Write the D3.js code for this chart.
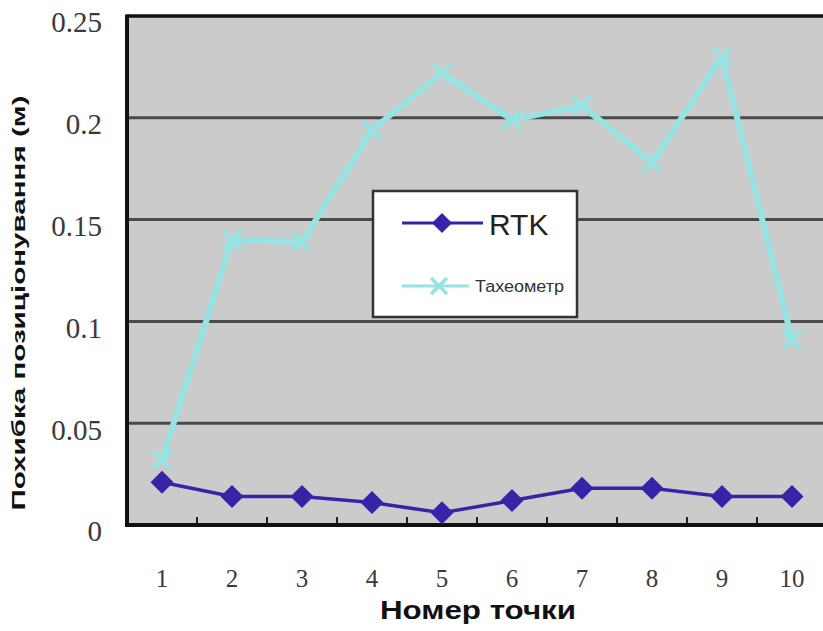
<!DOCTYPE html>
<html>
<head>
<meta charset="utf-8">
<script src="https://cdn.jsdelivr.net/npm/d3@7"></script>
<style>
  html, body { margin: 0; padding: 0; background: #fff; }
  svg { display: block; }
  .serif { font-family: "Liberation Serif", "Times New Roman", "DejaVu Serif", serif; }
  .sans { font-family: "Liberation Sans", Arial, "DejaVu Sans", sans-serif; }
</style>
</head>
<body>
<svg id="chart" width="823" height="631"></svg>
<script>
// Point numbers along the x axis
const points = ["1", "2", "3", "4", "5", "6", "7", "8", "9", "10"];
// Positioning error, metres
const rtk = [0.021, 0.014, 0.014, 0.011, 0.006, 0.012, 0.018, 0.018, 0.014, 0.014];
const tacheometer = [0.032, 0.140, 0.139, 0.194, 0.222, 0.199, 0.206, 0.178, 0.230, 0.091];
const yTicks = [0, 0.05, 0.1, 0.15, 0.2, 0.25];
const yTickLabels = ["0", "0.05", "0.1", "0.15", "0.2", "0.25"];

const svg = d3.select("#chart");
const plot = { left: 127, right: 827, top: 16, bottom: 525 };

const x = d3.scaleBand().domain(points).range([plot.left, plot.right]).padding(0);
const y = d3.scaleLinear().domain([0, 0.25]).range([plot.bottom, plot.top]);

// plot background
svg.append("rect")
  .attr("x", plot.left).attr("y", plot.top)
  .attr("width", plot.right - plot.left).attr("height", plot.bottom - plot.top)
  .attr("fill", "#cbcbcb");

// horizontal gridlines
svg.append("g")
  .selectAll("line")
  .data(yTicks.filter(d => d > 0 && d < 0.25))
  .join("line")
  .attr("x1", plot.left).attr("x2", plot.right)
  .attr("y1", d => y(d)).attr("y2", d => y(d))
  .attr("stroke", "#4a4a4a").attr("stroke-width", 3);

// y axis labels
const yAxis = d3.axisLeft(y)
  .tickValues(yTicks)
  .tickFormat((d, i) => yTickLabels[i])
  .tickSize(0)
  .tickPadding(25);
const gy = svg.append("g").attr("transform", `translate(${plot.left},0)`).call(yAxis);
gy.attr("font-family", null).attr("font-size", null);
gy.select(".domain").remove();
gy.selectAll("text")
  .attr("class", "serif")
  .style("font-size", "29px")
  .attr("fill", "#3a3a3a")
  .attr("dy", "0.55em");

// x axis: labels under each band, inward ticks at band boundaries
const xAxis = d3.axisBottom(x).tickSize(0).tickPadding(44);
const gx = svg.append("g").attr("transform", `translate(0,${plot.bottom})`).call(xAxis);
gx.attr("font-family", null).attr("font-size", null);
gx.select(".domain").remove();
gx.selectAll("text")
  .attr("class", "serif")
  .style("font-size", "25px")
  .attr("fill", "#3a3a3a");

svg.append("g")
  .selectAll("line")
  .data(points.slice(1))
  .join("line")
  .attr("x1", d => x(d)).attr("x2", d => x(d))
  .attr("y1", plot.bottom - 8).attr("y2", plot.bottom)
  .attr("stroke", "#222").attr("stroke-width", 2);

// frame
svg.append("line")
  .attr("x1", plot.left).attr("x2", plot.right)
  .attr("y1", plot.top).attr("y2", plot.top)
  .attr("stroke", "#111").attr("stroke-width", 3.5);
svg.append("line")
  .attr("x1", plot.left).attr("x2", plot.left)
  .attr("y1", plot.top - 1.5).attr("y2", plot.bottom + 2)
  .attr("stroke", "#111").attr("stroke-width", 4);
svg.append("line")
  .attr("x1", plot.left - 2).attr("x2", plot.right)
  .attr("y1", plot.bottom).attr("y2", plot.bottom)
  .attr("stroke", "#111").attr("stroke-width", 4);

const cx = d => x(d) + x.bandwidth() / 2;
const line = d3.line().x((d, i) => cx(points[i])).y(d => y(d));

// Tacheometer series
const tachColor = "#96e3e1";
svg.append("path")
  .datum(tacheometer)
  .attr("d", line)
  .attr("fill", "none")
  .attr("stroke", tachColor)
  .attr("stroke-width", 6)
  .attr("stroke-linejoin", "round");
const xMark = s => `M${-s},${-s}L${s},${s}M${-s},${s}L${s},${-s}`;
svg.append("g")
  .selectAll("path")
  .data(tacheometer)
  .join("path")
  .attr("transform", (d, i) => `translate(${cx(points[i])},${y(d)})`)
  .attr("d", xMark(9))
  .attr("stroke", tachColor).attr("stroke-width", 4.5).attr("fill", "none");

// RTK series
const rtkColor = "#3624a8";
svg.append("path")
  .datum(rtk)
  .attr("d", line)
  .attr("fill", "none")
  .attr("stroke", rtkColor)
  .attr("stroke-width", 3.5);
const diamond = s => `M0,${-s}L${s},0L0,${s}L${-s},0Z`;
svg.append("g")
  .selectAll("path")
  .data(rtk)
  .join("path")
  .attr("transform", (d, i) => `translate(${cx(points[i])},${y(d)})`)
  .attr("d", diamond(11.5))
  .attr("fill", rtkColor);

// legend
const lg = svg.append("g").attr("transform", "translate(373,191)");
lg.append("rect")
  .attr("x", 0).attr("y", 0).attr("width", 204).attr("height", 126)
  .attr("fill", "#fff").attr("stroke", "#333").attr("stroke-width", 2.5);
lg.append("line").attr("x1", 29).attr("x2", 110).attr("y1", 32).attr("y2", 32)
  .attr("stroke", rtkColor).attr("stroke-width", 3);
lg.append("path").attr("transform", "translate(69,32)").attr("d", diamond(10)).attr("fill", rtkColor);
lg.append("text").attr("class", "sans").attr("x", 116).attr("y", 44)
  .style("font-size", "30px").attr("fill", "#222").text("RTK");
lg.append("line").attr("x1", 29).attr("x2", 96).attr("y1", 95).attr("y2", 95)
  .attr("stroke", tachColor).attr("stroke-width", 3);
lg.append("path").attr("transform", "translate(66,95)").attr("d", xMark(8))
  .attr("stroke", tachColor).attr("stroke-width", 3.5).attr("fill", "none");
lg.append("text").attr("class", "sans").attr("x", 102).attr("y", 101)
  .style("font-size", "16px").attr("fill", "#333")
  .attr("textLength", 89).attr("lengthAdjust", "spacingAndGlyphs")
  .text("Тахеометр");

// axis titles
svg.append("text")
  .attr("class", "sans")
  .attr("x", 478).attr("y", 619)
  .attr("text-anchor", "middle")
  .style("font-size", "25px")
  .attr("font-weight", "bold")
  .attr("textLength", 196).attr("lengthAdjust", "spacingAndGlyphs")
  .attr("fill", "#111")
  .text("Номер точки");
svg.append("text")
  .attr("class", "sans")
  .attr("transform", "translate(25,303) rotate(-90)")
  .attr("text-anchor", "middle")
  .style("font-size", "17.5px")
  .attr("font-weight", "bold")
  .attr("textLength", 415).attr("lengthAdjust", "spacingAndGlyphs")
  .attr("fill", "#111")
  .text("Похибка позиціонування (м)");
</script>
</body>
</html>
